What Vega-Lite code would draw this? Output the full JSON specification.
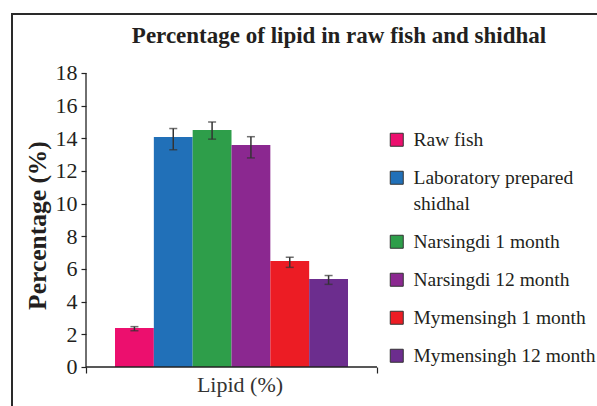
{
  "$schema": "https://vega.github.io/schema/vega-lite/v6.json",
  "width": 600,
  "height": 400,
  "autosize": {"type": "none"},
  "padding": {"left": 12, "top": 14, "right": 0, "bottom": 0},
  "background": "white",
  "config": {"view": {"stroke": "#2a2a2a", "strokeWidth": 2}, "font": "Liberation Serif"},
  "title": {
    "text": "Percentage of lipid in raw fish and shidhal",
    "font": "Liberation Serif",
    "fontSize": 23,
    "fontWeight": "bold",
    "color": "#231f20",
    "anchor": "middle",
    "frame": "group",
    "baseline": "alphabetic",
    "offset": -52,
    "dx": 27
  },
  "data": {
    "values": [
      {"cat": "Lipid (%)", "group": "Raw fish", "value": 2.38, "lo": 2.22, "hi": 2.47},
      {"cat": "Lipid (%)", "group": "Laboratory prepared shidhal", "value": 14.08, "lo": 13.3, "hi": 14.6},
      {"cat": "Lipid (%)", "group": "Narsingdi 1 month", "value": 14.51, "lo": 13.95, "hi": 15.0},
      {"cat": "Lipid (%)", "group": "Narsingdi 12 month", "value": 13.59, "lo": 12.8, "hi": 14.1},
      {"cat": "Lipid (%)", "group": "Mymensingh 1 month", "value": 6.49, "lo": 6.1, "hi": 6.72},
      {"cat": "Lipid (%)", "group": "Mymensingh 12 month", "value": 5.39, "lo": 5.06, "hi": 5.6}
    ]
  },
  "layer": [
    {
      "mark": {"type": "bar"},
      "encoding": {
        "x": {
          "field": "cat",
          "type": "nominal",
          "scale": {"paddingInner": 0, "paddingOuter": 0.5309, "align": 0.2395},
          "axis": {
            "orient": "bottom",
            "offset": -47,
            "domain": false,
            "tickBand": "extent",
            "ticks": true,
            "tickSize": 6,
            "tickColor": "#222",
            "tickWidth": 1.2,
            "labelAngle": 0,
            "labelFont": "Liberation Serif",
            "labelFontSize": 22,
            "labelColor": "#333",
            "labelPadding": 1,
            "labelOffset": 8,
            "title": null
          }
        },
        "xOffset": {
          "field": "group",
          "type": "nominal",
          "scale": {
            "domain": ["Raw fish", "Laboratory prepared shidhal", "Narsingdi 1 month", "Narsingdi 12 month", "Mymensingh 1 month", "Mymensingh 12 month"],
            "paddingInner": 0,
            "paddingOuter": 0.747
          }
        },
        "y": {
          "field": "value",
          "type": "quantitative",
          "scale": {"domain": [-2.878, 21.612], "nice": false, "zero": false},
          "axis": {
            "orient": "left",
            "offset": -74,
            "values": [0, 2, 4, 6, 8, 10, 12, 14, 16, 18],
            "domain": false,
            "grid": false,
            "tickSize": 5,
            "tickColor": "#222",
            "tickWidth": 1.2,
            "labelFont": "Liberation Serif",
            "labelFontSize": 22,
            "labelColor": "#231f20",
            "labelPadding": 4,
            "title": "Percentage (%)",
            "titleFont": "Liberation Serif",
            "titleFontSize": 25.5,
            "titleFontWeight": "bold",
            "titleColor": "#231f20",
            "titlePadding": 5,
            "titleY": 211
          }
        },
        "y2": {"datum": 0},
        "color": {
          "field": "group",
          "type": "nominal",
          "scale": {
            "domain": ["Raw fish", "Laboratory prepared shidhal", "Narsingdi 1 month", "Narsingdi 12 month", "Mymensingh 1 month", "Mymensingh 12 month"],
            "range": ["#ec0f6e", "#2170b8", "#2e9e4a", "#8b2890", "#ec1c24", "#6c2d8e"]
          },
          "legend": {
            "orient": "none",
            "legendX": 375,
            "legendY": 116,
            "title": null,
            "padding": 0,
            "symbolType": "square",
            "symbolSize": 169,
            "symbolStrokeColor": "#333",
            "symbolStrokeWidth": 1,
            "labelFont": "Liberation Serif",
            "labelFontSize": 19.5,
            "labelColor": "#231f20",
            "labelOffset": 7,
            "labelLimit": 300,
            "rowPadding": 17,
            "labelExpr": "datum.label == 'Laboratory prepared shidhal' ? ['Laboratory prepared', 'shidhal'] : datum.label",
            "encode": {"labels": {"update": {"lineHeight": {"value": 26}}}}
          }
        }
      }
    },
    {
      "mark": {"type": "rule", "color": "#333", "strokeWidth": 1.5},
      "encoding": {
        "x": {"field": "cat", "type": "nominal"},
        "xOffset": {"field": "group", "type": "nominal"},
        "y": {"field": "lo", "type": "quantitative"},
        "y2": {"field": "hi"}
      }
    },
    {
      "mark": {"type": "tick", "color": "#333", "thickness": 1.5, "size": 8},
      "encoding": {
        "x": {"field": "cat", "type": "nominal"},
        "xOffset": {"field": "group", "type": "nominal"},
        "y": {"field": "lo", "type": "quantitative"}
      }
    },
    {
      "mark": {"type": "tick", "color": "#333", "thickness": 1.5, "size": 8},
      "encoding": {
        "x": {"field": "cat", "type": "nominal"},
        "xOffset": {"field": "group", "type": "nominal"},
        "y": {"field": "hi", "type": "quantitative"}
      }
    },
    {
      "data": {"values": [{"cat": "Lipid (%)"}]},
      "mark": {"type": "rule", "color": "#222", "strokeWidth": 1.3},
      "encoding": {
        "x": {"field": "cat", "type": "nominal", "bandPosition": 0},
        "y": {"datum": 0},
        "y2": {"datum": 18}
      }
    },
    {
      "data": {"values": [{"cat": "Lipid (%)"}]},
      "mark": {"type": "bar", "fill": "transparent", "stroke": "#222", "strokeWidth": 1.3},
      "encoding": {
        "x": {"field": "cat", "type": "nominal"},
        "y": {"datum": 0},
        "y2": {"datum": 0}
      }
    }
  ]
}
